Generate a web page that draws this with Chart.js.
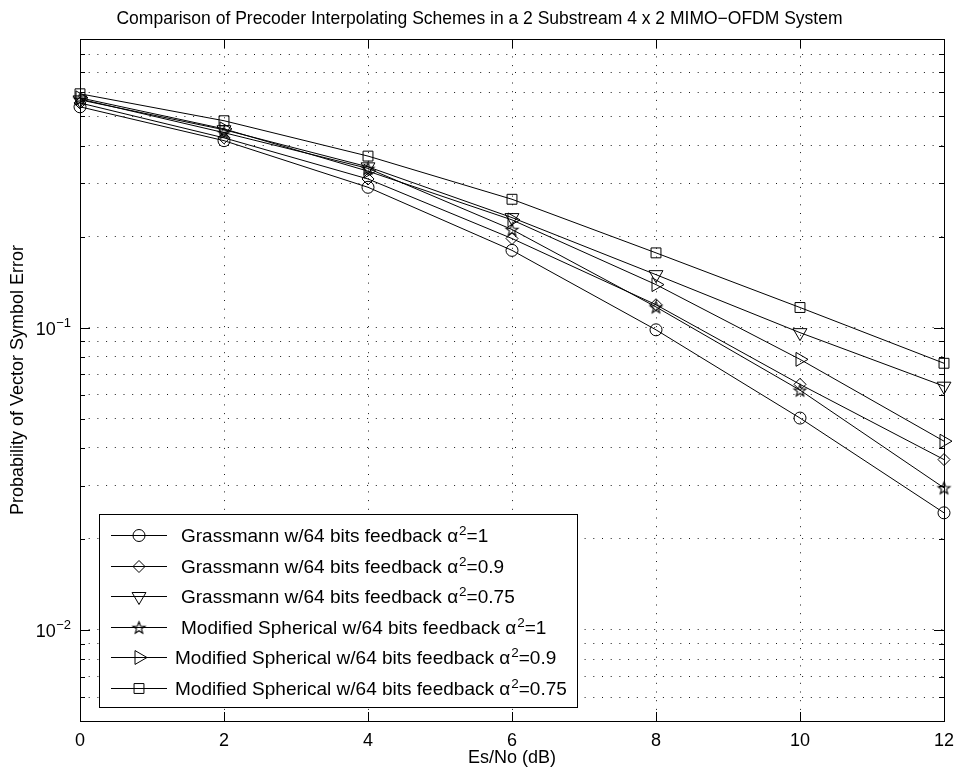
<!DOCTYPE html>
<html><head><meta charset="utf-8">
<script src="https://cdn.jsdelivr.net/npm/chart.js@4/dist/chart.umd.min.js"></script>
<style>html,body{margin:0;padding:0;background:#fff;}canvas{display:block;}</style>
</head><body>
<canvas id="c" width="959" height="773"></canvas>
<script>
// ---- data ----
const snr = [0, 2, 4, 6, 8, 10, 12];
const grassA1   = [0.537, 0.415, 0.291, 0.180, 0.0983, 0.0502, 0.0244];
const grassA09  = [0.553, 0.424, 0.310, 0.197, 0.119, 0.0649, 0.0366];
const grassA075 = [0.566, 0.451, 0.340, 0.231, 0.1496, 0.0962, 0.0640];
const sphA1     = [0.570, 0.441, 0.336, 0.211, 0.117, 0.0621, 0.0295];
const sphA09    = [0.575, 0.454, 0.329, 0.227, 0.1387, 0.0785, 0.0421];
const sphA075   = [0.593, 0.483, 0.369, 0.2656, 0.1766, 0.1165, 0.0762];
const seriesMain = [
  'Grassmann w/64 bits feedback \u03b1',
  'Grassmann w/64 bits feedback \u03b1',
  'Grassmann w/64 bits feedback \u03b1',
  'Modified Spherical w/64 bits feedback \u03b1',
  'Modified Spherical w/64 bits feedback \u03b1',
  'Modified Spherical w/64 bits feedback \u03b1'
];
const seriesAlpha = ['=1', '=0.9', '=0.75', '=1', '=0.9', '=0.75'];
const xTicks = [0, 2, 4, 6, 8, 10, 12];
const yGrid = [0.006, 0.007, 0.008, 0.009, 0.01, 0.02, 0.03, 0.04, 0.05, 0.06, 0.07, 0.08, 0.09,
               0.1, 0.2, 0.3, 0.4, 0.5, 0.6, 0.7, 0.8, 0.9];
const yMajor = [0.01, 0.1];
const yMajorExp = ['\u22122', '\u22121'];
const titleText = 'Comparison of Precoder Interpolating Schemes in a 2 Substream 4 x 2 MIMO\u2212OFDM System';
const xTitle = 'Es/No (dB)';
const yTitle = 'Probability of Vector Symbol Error';

// ---- styles ----
const FONT = '"Liberation Sans", Arial, Helvetica, sans-serif';
const FS = 18;
const LFS = 19;
const gridColor = 'rgba(0,0,0,0.9)';
const gridDash = [1, 7.7];

function makeStar(r) {
  const s = 2 * Math.ceil(r + 2) + 1;
  const c = document.createElement('canvas');
  c.width = s; c.height = s;
  const g = c.getContext('2d');
  g.strokeStyle = '#000'; g.lineWidth = 1.1;
  g.beginPath();
  for (let i = 0; i < 10; i++) {
    const rr = i % 2 ? r * 0.42 : r;
    const a = -Math.PI / 2 + i * Math.PI / 5;
    const px = s / 2 + rr * Math.cos(a), py = s / 2 + rr * Math.sin(a) + 0.6;
    if (i) g.lineTo(px, py); else g.moveTo(px, py);
  }
  g.closePath(); g.stroke();
  return c;
}
const starImg = makeStar(6.3);

const seriesArrays = [grassA1, grassA09, grassA075, sphA1, sphA09, sphA075];
const markers = [
  {style: 'circle', r: 6, rot: 0},
  {style: 'rectRot', r: 6, rot: 0},
  {style: 'triangle', r: 8, rot: 180},
  {style: starImg, r: 6, rot: 0},
  {style: 'triangle', r: 8, rot: 90},
  {style: 'rect', r: 7, rot: 0}
];

const datasets = seriesArrays.map((arr, i) => ({
  label: seriesMain[i] + '2' + seriesAlpha[i],
  data: snr.map((x, j) => ({x: x, y: arr[j]})),
  borderColor: '#000',
  borderWidth: 1,
  backgroundColor: 'rgba(0,0,0,0)',
  pointStyle: markers[i].style,
  pointRadius: markers[i].r,
  pointRotation: markers[i].rot,
  pointBorderColor: '#000',
  pointBackgroundColor: 'rgba(0,0,0,0)',
  pointBorderWidth: 1,
  tension: 0,
  clip: false,
  fill: false
}));

function drawMarker(ctx, m, x, y) {
  if (Chart.helpers && Chart.helpers.drawPoint) {
    ctx.save();
    ctx.strokeStyle = '#000'; ctx.fillStyle = 'rgba(0,0,0,0)'; ctx.lineWidth = 1;
    Chart.helpers.drawPoint(ctx, {pointStyle: m.style, radius: m.r, rotation: m.rot, borderWidth: 1}, x, y);
    ctx.restore();
  }
}

const decorPlugin = {
  id: 'decor',
  afterDatasetsDraw(chart) {
    const ctx = chart.ctx;
    const a = chart.chartArea;
    const xs = chart.scales.x, ys = chart.scales.y;
    ctx.save();
    ctx.setLineDash([]);
    ctx.strokeStyle = '#000';
    ctx.lineWidth = 1;
    // frame
    ctx.strokeRect(Math.round(a.left) + 0.5, Math.round(a.top) + 0.5,
                   Math.round(a.right) - Math.round(a.left), Math.round(a.bottom) - Math.round(a.top));
    // x ticks inward (bottom and top)
    ctx.beginPath();
    xTicks.forEach(v => {
      const px = Math.round(xs.getPixelForValue(v)) + 0.5;
      ctx.moveTo(px, a.bottom); ctx.lineTo(px, a.bottom - 9);
      ctx.moveTo(px, a.top); ctx.lineTo(px, a.top + 9);
    });
    // y ticks inward (left and right)
    yGrid.forEach(v => {
      const py = Math.round(ys.getPixelForValue(v)) + 0.5;
      const len = yMajor.includes(v) ? 10 : 5;
      ctx.moveTo(a.left, py); ctx.lineTo(a.left + len, py);
      ctx.moveTo(a.right, py); ctx.lineTo(a.right - len, py);
    });
    ctx.stroke();

    // tick labels
    ctx.fillStyle = '#000';
    ctx.font = FS + 'px ' + FONT;
    ctx.textAlign = 'center';
    ctx.textBaseline = 'alphabetic';
    xTicks.forEach(v => {
      ctx.fillText(String(v), xs.getPixelForValue(v), a.bottom + 24.5);
    });
    yMajor.forEach((v, i) => {
      const py = ys.getPixelForValue(v);
      ctx.font = '13px ' + FONT;
      ctx.textAlign = 'right';
      ctx.fillText(yMajorExp[i], 71, py - 1);
      const ew = ctx.measureText(yMajorExp[i]).width;
      ctx.font = FS + 'px ' + FONT;
      ctx.fillText('10', 71 - ew - 0.5, py + 7.5);
    });

    // titles
    ctx.textAlign = 'center';
    ctx.font = '17.5px ' + FONT;
    ctx.fillText(titleText, chart.width / 2, 23.5);
    ctx.font = FS + 'px ' + FONT;
    ctx.fillText(xTitle, (a.left + a.right) / 2, a.bottom + 42);
    ctx.save();
    ctx.translate(23, (a.top + a.bottom) / 2);
    ctx.rotate(-Math.PI / 2);
    ctx.fillText(yTitle, 0, 0);
    ctx.restore();

    // legend
    const lx0 = 99, ly0 = 514, lx1 = 577, ly1 = 707;
    ctx.fillStyle = '#fff';
    ctx.fillRect(lx0, ly0, lx1 - lx0, ly1 - ly0);
    ctx.strokeStyle = '#000';
    ctx.strokeRect(lx0 + 0.5, ly0 + 0.5, lx1 - lx0, ly1 - ly0);
    const textX = [181, 181, 181, 181, 175, 175];
    for (let i = 0; i < 6; i++) {
      const ry = Math.round(535 + i * 30.6) + 0.5;
      ctx.beginPath();
      ctx.moveTo(111, ry); ctx.lineTo(167, ry);
      ctx.stroke();
      drawMarker(ctx, markers[i], 139, ry);
      ctx.fillStyle = '#000';
      ctx.textAlign = 'left';
      ctx.font = LFS + 'px ' + FONT;
      let tx = textX[i];
      ctx.fillText(seriesMain[i], tx, ry + 6.5);
      tx += ctx.measureText(seriesMain[i]).width + 1;
      ctx.font = '13.5px ' + FONT;
      ctx.fillText('2', tx, ry - 1);
      tx += ctx.measureText('2').width;
      ctx.font = LFS + 'px ' + FONT;
      ctx.fillText(seriesAlpha[i], tx, ry + 6.5);
    }
    ctx.restore();
  }
};

new Chart(document.getElementById('c'), {
  type: 'line',
  data: {datasets: datasets},
  options: {
    responsive: false,
    devicePixelRatio: 1,
    animation: false,
    layout: {padding: {left: 80, right: 15, top: 39, bottom: 52}},
    plugins: {legend: {display: false}, title: {display: false}, tooltip: {enabled: false}},
    scales: {
      x: {
        type: 'linear', min: 0, max: 12,
        afterBuildTicks: s => { s.ticks = xTicks.map(v => ({value: v})); },
        afterFit: s => { s.height = 0; },
        ticks: {display: false},
        border: {display: false, dash: gridDash},
        grid: {
          drawTicks: false,
          lineWidth: 1,
          color: c => (c.tick && (c.tick.value === 0 || c.tick.value === 12)) ? 'rgba(0,0,0,0)' : gridColor
        }
      },
      y: {
        type: 'logarithmic', min: 0.005, max: 0.9,
        afterBuildTicks: s => { s.ticks = yGrid.map(v => ({value: v})); },
        afterFit: s => { s.width = 0; },
        ticks: {display: false},
        border: {display: false, dash: gridDash},
        grid: {
          drawTicks: false,
          lineWidth: 1,
          color: c => (c.tick && c.tick.value >= 0.9) ? 'rgba(0,0,0,0)' : gridColor
        }
      }
    }
  },
  plugins: [decorPlugin]
});
</script>
</body></html>
